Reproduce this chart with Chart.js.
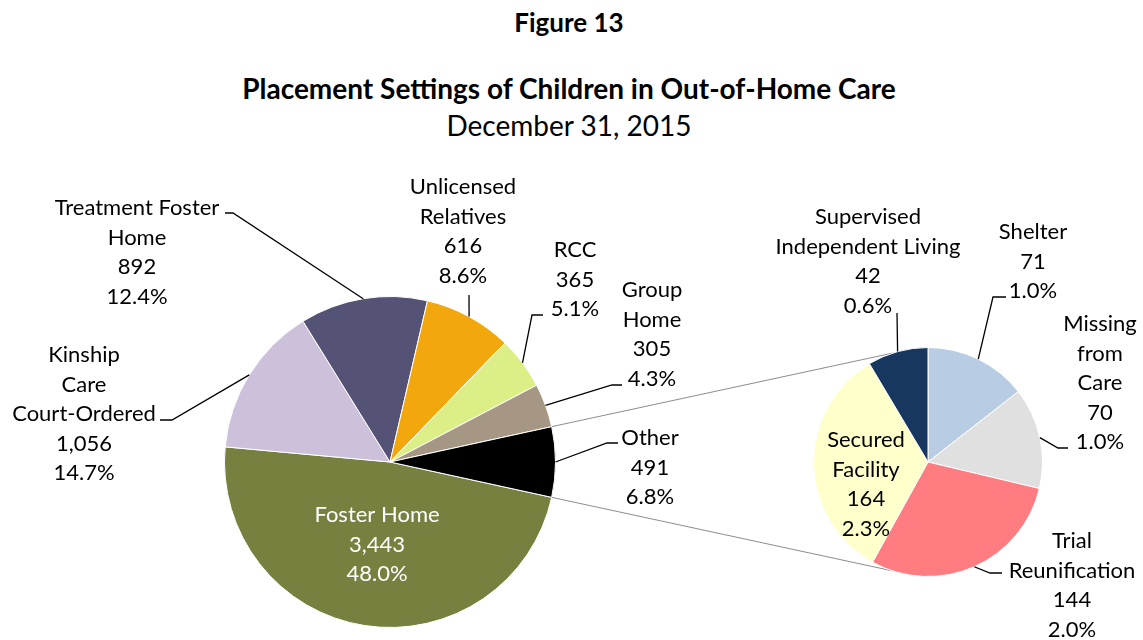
<!DOCTYPE html>
<html>
<head>
<meta charset="utf-8">
<script src="https://cdn.jsdelivr.net/npm/chart.js@4.4.0/dist/chart.umd.min.js"></script>
<style>
    body { margin: 0; background: #fff; }
    #wrap { position: relative; width: 1143px; height: 640px; font-family: Lato, 'Open Sans', sans-serif; color: #000; }
    #wrap canvas { position: absolute; left: 0; top: 0; }
    .title { position: absolute; left: 0; width: 1138px; text-align: center; white-space: nowrap; line-height: 34px; }
</style>
</head>
<body>
<div id="wrap">
    <div class="title" style="top:5px; font-weight:bold; font-size:26px;">Figure 13</div>
    <div class="title" style="top:71px; font-weight:bold; font-size:28px;">Placement Settings of Children in Out-of-Home Care</div>
    <div class="title" style="top:108px; font-size:28px;">December 31, 2015</div>
    <canvas id="mainPie" width="1143" height="640"></canvas>
    <canvas id="otherPie" width="1143" height="640"></canvas>
</div>
<script>
// main pie (Other is broken out into the second pie)
const mainCategories = ['Foster Home', 'Kinship\nCare\nCourt-Ordered', 'Treatment Foster\nHome', 'Unlicensed\nRelatives', 'RCC', 'Group\nHome', 'Other'];
const mainValues = [3443, 1056, 892, 616, 365, 305, 491];
const mainColors = ['#77803f', '#ccc0da', '#545275', '#f2a80c', '#dcef86', '#a69784', '#000000'];

// second pie: breakdown of Other
const otherCategories = ['Shelter', 'Missing\nfrom\nCare', 'Trial\nReunification', 'Secured\nFacility', 'Supervised\nIndependent Living'];
const otherValues = [71, 70, 144, 164, 42];
const otherColors = ['#b8cce4', '#e0e0e0', '#ff7c80', '#ffffcc', '#17375e'];

const grandTotal = mainValues.reduce((a, b) => a + b, 0);
const lineH = 29.6;

// where each label sits and how its leader line bends
const mainLabelLayout = [
    { x: 377, y: 515, color: '#fff' },
    { x: 84, y: 355, leader: [[172, 420], [160, 420]] },
    { x: 137, y: 208, leader: [[233, 213], [225, 213]] },
    { x: 463, y: 187, leader: [[469, 295]] },
    { x: 575, y: 250, leader: [[532, 315], [543, 315]] },
    { x: 652, y: 290, leader: [[612, 385], [622, 385]] },
    { x: 650, y: 438, leader: [[607, 443], [618, 443]] }
];
const otherLabelLayout = [
    { x: 1033, y: 232, leader: [[993, 297], [1006, 297]] },
    { x: 1100, y: 324, leader: [[1058, 448], [1068, 448]] },
    { x: 1072, y: 541, leader: [[990, 573], [1002, 573]] },
    { x: 866, y: 440 },
    { x: 868, y: 217, leader: [[897, 313]] }
];

const sliceLabels = {
    id: 'sliceLabels',
    afterDatasetsDraw(chart, args, opts) {
        const ctx = chart.ctx;
        const meta = chart.getDatasetMeta(0);
        const values = chart.data.datasets[0].data;
        ctx.save();
        ctx.font = '22px Lato';
        ctx.textAlign = 'center';
        ctx.textBaseline = 'middle';
        meta.data.forEach((arc, i) => {
            const L = opts.layout[i];
            const p = arc.getProps(['x', 'y', 'startAngle', 'endAngle', 'outerRadius'], true);
            const mid = (p.startAngle + p.endAngle) / 2;
            if (L.leader) {
                ctx.beginPath();
                ctx.moveTo(p.x + Math.cos(mid) * p.outerRadius, p.y + Math.sin(mid) * p.outerRadius);
                L.leader.forEach(pt => ctx.lineTo(pt[0], pt[1]));
                ctx.strokeStyle = '#000';
                ctx.lineWidth = 1.3;
                ctx.stroke();
            }
            const lines = chart.data.labels[i].split('\n');
            lines.push(values[i].toLocaleString('en-US'));
            lines.push((values[i] / grandTotal * 100).toFixed(1) + '%');
            ctx.fillStyle = L.color || '#000';
            lines.forEach((s, k) => ctx.fillText(s, L.x, L.y + k * lineH));
        });
        ctx.restore();
    }
};

const otherShare = mainValues[mainValues.length - 1] / grandTotal;

const mainChart = new Chart(document.getElementById('mainPie'), {
    type: 'pie',
    data: {
        labels: mainCategories,
        datasets: [{
            data: mainValues,
            backgroundColor: mainColors,
            borderColor: '#ffffff',
            borderWidth: 1
        }]
    },
    options: {
        responsive: false,
        animation: false,
        rotation: 90 + otherShare * 180,
        layout: { padding: { left: 224, right: 587, top: 296, bottom: 12 } },
        plugins: {
            legend: { display: false },
            tooltip: { enabled: false },
            sliceLabels: { layout: mainLabelLayout }
        }
    },
    plugins: [sliceLabels]
});

// grey lines joining the Other slice to the second pie
const connectors = {
    id: 'connectors',
    beforeDatasetsDraw(chart) {
        const ctx = chart.ctx;
        const mm = mainChart.getDatasetMeta(0);
        const src = mm.data[mm.data.length - 1].getProps(['x', 'y', 'startAngle', 'endAngle', 'outerRadius'], true);
        const dst = chart.getDatasetMeta(0).data[0].getProps(['x', 'y', 'outerRadius'], true);
        const tilt = 18 * Math.PI / 180;
        const upA = -Math.PI / 2 - tilt, dnA = Math.PI / 2 + tilt;
        ctx.save();
        ctx.strokeStyle = '#8c8c8c';
        ctx.lineWidth = 1;
        ctx.beginPath();
        ctx.moveTo(src.x + Math.cos(src.startAngle) * src.outerRadius, src.y + Math.sin(src.startAngle) * src.outerRadius);
        ctx.lineTo(dst.x + Math.cos(upA) * dst.outerRadius, dst.y + Math.sin(upA) * dst.outerRadius);
        ctx.moveTo(src.x + Math.cos(src.endAngle) * src.outerRadius, src.y + Math.sin(src.endAngle) * src.outerRadius);
        ctx.lineTo(dst.x + Math.cos(dnA) * dst.outerRadius, dst.y + Math.sin(dnA) * dst.outerRadius);
        ctx.stroke();
        ctx.restore();
    }
};

new Chart(document.getElementById('otherPie'), {
    type: 'pie',
    data: {
        labels: otherCategories,
        datasets: [{
            data: otherValues,
            backgroundColor: otherColors,
            borderColor: '#ffffff',
            borderWidth: 1
        }]
    },
    options: {
        responsive: false,
        animation: false,
        rotation: 0,
        layout: { padding: { left: 813, right: 100, top: 347, bottom: 63 } },
        plugins: {
            legend: { display: false },
            tooltip: { enabled: false },
            sliceLabels: { layout: otherLabelLayout }
        }
    },
    plugins: [connectors, sliceLabels]
});
</script>
</body>
</html>
